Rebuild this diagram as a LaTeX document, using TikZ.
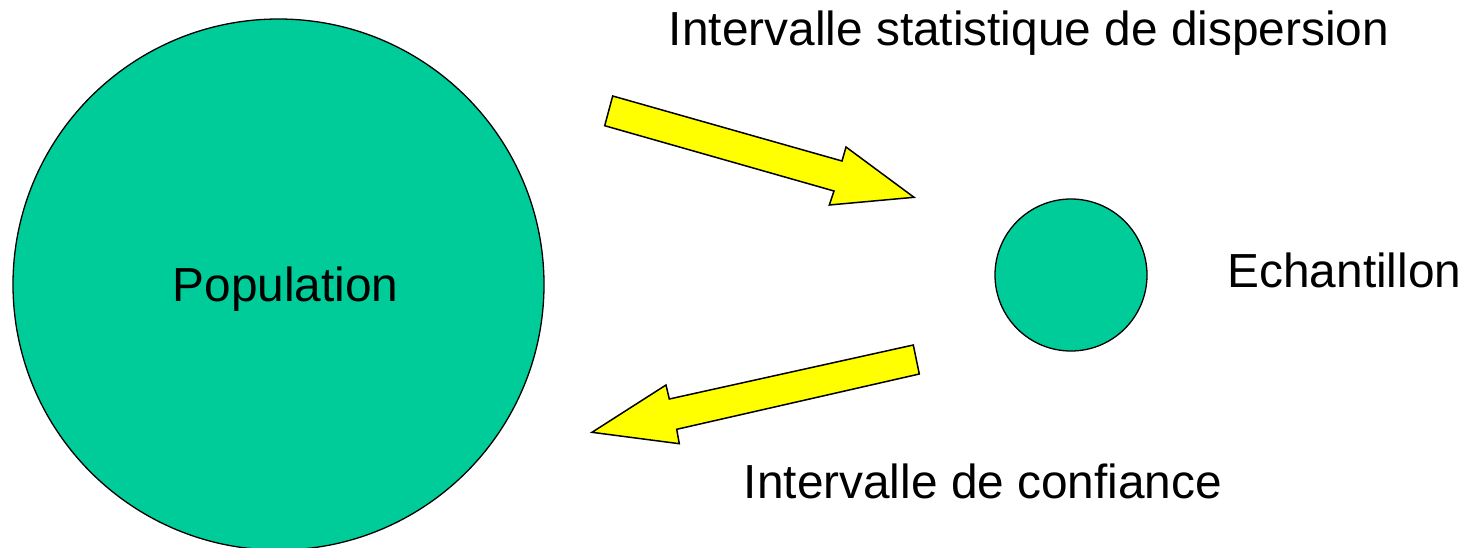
\documentclass[tikz,border=0pt]{standalone}
\usepackage{fontspec}
\setmainfont{Liberation Sans}
\definecolor{popgreen}{RGB}{0,204,153}
\definecolor{arrowyellow}{RGB}{255,255,0}
\begin{document}
\begin{tikzpicture}[x=1pt,y=-1pt,
  disc/.style={circle,draw=black,line width=1.3pt,fill=popgreen,inner sep=0pt},
  lbl/.style={inner sep=0pt,anchor=base,font=\fontsize{47.8}{57}\selectfont},
  blockarrow/.style={draw=black,line width=1.5pt,fill=arrowyellow,line join=miter}]
\useasboundingbox (0,0) rectangle (1465,547);
% circles
\node[disc,minimum size=531pt] (pop) at (278.5,284.5) {};
\node[disc,minimum size=152pt] (ech) at (1071,275) {};
% labels
\node[lbl] (poptxt) at (285.5,301.7) {Population};
\node[lbl] (echtxt) at (1344.4,287.3) {Echantillon};
\node[lbl] (disp) at (1029,45.7) {Intervalle statistique de dispersion};
\node[lbl] (conf) at (983,498.3) {Intervalle de confiance};
% upper block arrow (population -> sample)
\coordinate (u1) at (612.7,96);
\coordinate (u2) at (842,161);
\coordinate (u3) at (846,147);
\coordinate (u4) at (914,197.3);
\coordinate (u5) at (829.3,205);
\coordinate (u6) at (834,191);
\coordinate (u7) at (604.7,125.7);
\draw[blockarrow] (u1) -- (u2) -- (u3) -- (u4) -- (u5) -- (u6) -- (u7) -- cycle;
% lower block arrow (sample -> population)
\coordinate (l1) at (913.3,345);
\coordinate (l2) at (919.3,374);
\coordinate (l3) at (676.7,429.3);
\coordinate (l4) at (679.3,443.7);
\coordinate (l5) at (592,432.3);
\coordinate (l6) at (666,385);
\coordinate (l7) at (669.3,399);
\draw[blockarrow] (l1) -- (l2) -- (l3) -- (l4) -- (l5) -- (l6) -- (l7) -- cycle;
\end{tikzpicture}
\end{document}
